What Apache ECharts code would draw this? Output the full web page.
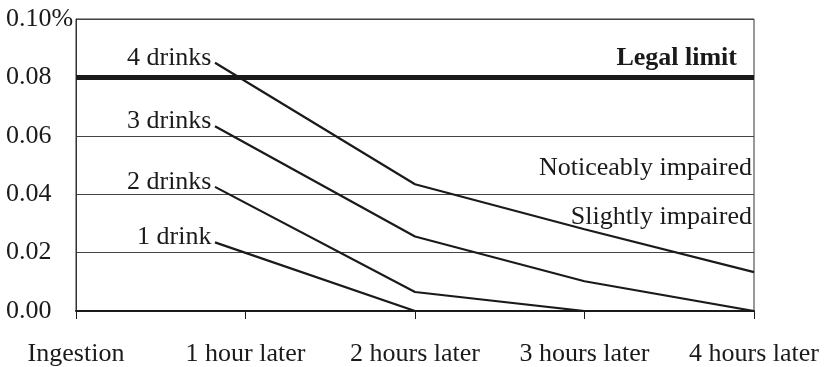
<!DOCTYPE html>
<html>
<head>
<meta charset="utf-8">
<script src="https://cdn.jsdelivr.net/npm/echarts@6/dist/echarts.min.js"></script>
<style>
html,body{margin:0;padding:0;background:#fff;}
#chart{width:831px;height:367px;}
</style>
</head>
<body>
<div id="chart"></div>
<script>
const categories = ['Ingestion', '1 hour later', '2 hours later', '3 hours later', '4 hours later'];
const hours = [0.82, 2, 3, 4];
const drinks4 = [0.085, 0.0434, 0.028, 0.0133];
const drinks3 = [0.0633, 0.0255, 0.0102, 0];
const drinks2 = [0.0425, 0.0065, 0, 0];
const drinks1 = [0.0235, 0, 0, 0];
const seriesNames = ['4 drinks', '3 drinks', '2 drinks', '1 drink'];
const seriesValues = [drinks4, drinks3, drinks2, drinks1];
const legalLimit = 0.08;
const zoneLabels = [
  { name: 'Noticeably impaired', from: 0.04, to: 0.06 },
  { name: 'Slightly impaired', from: 0.02, to: 0.04 }
];

const FONT = '"Liberation Serif", "Times New Roman", serif';
const INK = '#1a1a1a';

const chart = echarts.init(document.getElementById('chart'), null, { renderer: 'canvas' });

const series = seriesNames.map((name, si) => ({
  name: name,
  type: 'line',
  symbol: 'circle',
  symbolSize: 1,
  showSymbol: true,
  itemStyle: { color: 'rgba(0,0,0,0)' },
  lineStyle: { color: INK, width: 2.2 },
  z: 3,
  label: { show: false },
  data: hours.map((h, i) => {
    const item = { value: [h, seriesValues[si][i]] };
    if (i === 0) {
      item.label = {
        show: true, position: 'left', distance: 3, formatter: name,
        color: INK, fontFamily: FONT, fontSize: 26, offset: [0, -5]
      };
    }
    return item;
  })
}));

series.push({
  type: 'line',
  data: [],
  markLine: {
    silent: true,
    symbol: 'none',
    lineStyle: { color: INK, width: 5, type: 'solid' },
    label: {
      show: true, position: 'insideEndTop', formatter: 'Legal limit',
      fontFamily: FONT, fontSize: 26, fontWeight: 'bold', color: INK,
      distance: [17, 6]
    },
    data: [{ yAxis: legalLimit }]
  },
  markArea: {
    silent: true,
    itemStyle: { color: 'rgba(0,0,0,0)' },
    label: {
      show: true, position: 'insideRight', distance: 2,
      fontFamily: FONT, fontSize: 26, color: INK
    },
    data: zoneLabels.map((z, i) => [
      { name: z.name, yAxis: z.from, label: { offset: [0, i === 1 ? -6 : 3] } },
      { yAxis: z.to }
    ])
  }
});

chart.setOption({
  animation: false,
  backgroundColor: '#fff',
  grid: {
    left: 76, right: 77, top: 19, bottom: 54,
    show: true, borderColor: '#333', borderWidth: 1, backgroundColor: 'transparent'
  },
  xAxis: {
    type: 'value', min: 0, max: 4, interval: 1,
    axisLine: { show: true, lineStyle: { color: INK, width: 2 } },
    axisTick: { show: true, length: 8, lineStyle: { color: INK, width: 1 } },
    splitLine: { show: false },
    axisLabel: {
      margin: 30, fontFamily: FONT, fontSize: 26, color: INK,
      formatter: v => categories[Math.round(v)]
    }
  },
  yAxis: {
    type: 'value', min: 0, max: 0.1, interval: 0.02,
    axisLine: { show: true, lineStyle: { color: '#333', width: 1 } },
    axisTick: { show: false },
    splitLine: { show: true, lineStyle: { color: '#444', width: 1 } },
    axisLabel: {
      margin: 70, align: 'left', fontFamily: FONT, fontSize: 26, color: INK,
      formatter: v => (Math.abs(v - 0.1) < 1e-9 ? '0.10%' : v.toFixed(2))
    }
  },
  series: series
});
</script>
</body>
</html>
